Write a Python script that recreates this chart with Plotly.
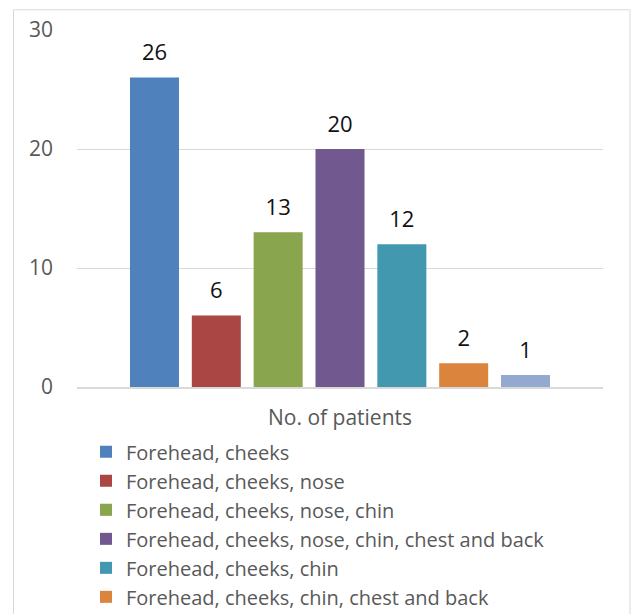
import plotly.graph_objects as go

category = ["No. of patients"]
series_names = [
    "Forehead, cheeks",
    "Forehead, cheeks, nose",
    "Forehead, cheeks, nose, chin",
    "Forehead, cheeks, nose, chin, chest and back",
    "Forehead, cheeks, chin",
    "Forehead, cheeks, chin, chest and back",
    "Others",
]
series_values = [26, 6, 13, 20, 12, 2, 1]
series_colors = ["#4F81BD", "#AA4643", "#89A54E", "#71588F", "#4198AF", "#DB843D", "#93A9CF"]
legend_visible = [True, True, True, True, True, True, False]
y_ticks = [0, 10, 20, 30]

FONT = "Open Sans"
fig = go.Figure()

for i, (name, val, col, vis) in enumerate(zip(series_names, series_values, series_colors, legend_visible)):
    fig.add_trace(go.Bar(
        x=category, y=[val], name=name, marker=dict(color=col, line=dict(width=0)),
        offsetgroup=str(i), legendgroup=str(i), hoverinfo="skip", showlegend=vis,
    ))
for i, (name, val) in enumerate(zip(series_names, series_values)):
    fig.add_trace(go.Scatter(
        x=category, y=[val], mode="markers+text", text=[str(val)],
        textposition="top center", offsetgroup=str(i), showlegend=False,
        marker=dict(size=17, color="rgba(0,0,0,0)"),
        textfont=dict(family=FONT, size=22, color="#111111"),
        cliponaxis=False, hoverinfo="skip",
    ))

fig.update_layout(
    width=632, height=614,
    margin=dict(l=77, r=29, t=30, b=227, autoexpand=False),
    paper_bgcolor="white", plot_bgcolor="white",
    barmode="group", bargap=0.177, bargroupgap=0.2075,
    scattermode="group", scattergap=0.177,
    font=dict(family=FONT, size=20, color="#595959"),
    showlegend=True,
    legend=dict(
        x=(86 - 77) / 526, xanchor="left", y=-0.127, yanchor="top",
        font=dict(family=FONT, size=20, color="#595959"),
        bgcolor="rgba(0,0,0,0)", borderwidth=0, traceorder="normal",
    ),
    xaxis=dict(
        type="category", showgrid=False, showline=True, linecolor="#D9D9D9", linewidth=1.5,
        ticks="", ticklabelstandoff=11, tickfont=dict(family=FONT, size=21, color="#595959"),
        zeroline=False,
    ),
    yaxis=dict(
        range=[0, 30], tickvals=y_ticks, showgrid=True, gridcolor="#D9D9D9", gridwidth=1,
        showline=False, zeroline=False, ticks="", ticklabelstandoff=23,
        tickfont=dict(family=FONT, size=21, color="#595959"),
    ),
    shapes=[dict(
        type="rect", xref="paper", yref="paper",
        x0=(13.5 - 77) / 526, x1=(630 - 77) / 526,
        y0=-1.0, y1=(386.7 - 9.5) / 357,
        line=dict(color="#D9D9D9", width=1), fillcolor="rgba(0,0,0,0)", layer="below",
    )],
)

fig.write_html("out.html")
